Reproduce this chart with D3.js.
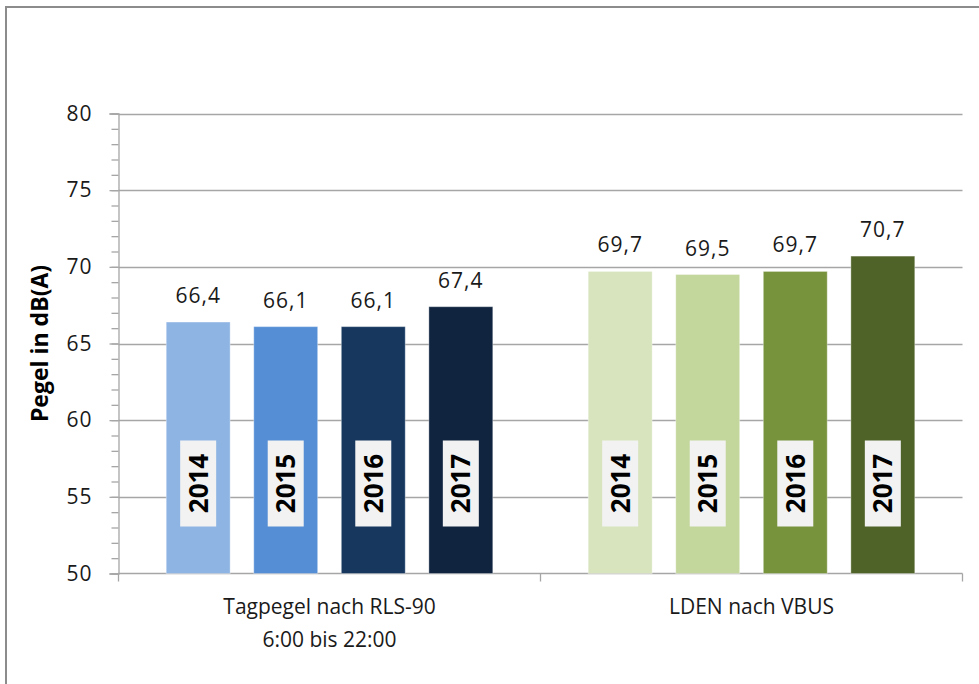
<!DOCTYPE html>
<html>
<head>
<meta charset="utf-8">
<script src="https://cdn.jsdelivr.net/npm/d3@7"></script>
<style>
  html, body { margin: 0; padding: 0; background: #fff; }
  svg { display: block; font-family: "Open Sans", sans-serif; }
</style>
</head>
<body>
<div id="chart"></div>
<script>
// data
const categories = ['Tagpegel nach RLS-90\n6:00 bis 22:00', 'LDEN nach VBUS'];
const years = ['2014', '2015', '2016', '2017'];
const tagValues = [66.4, 66.1, 66.1, 67.4];
const ldenValues = [69.7, 69.5, 69.7, 70.7];
const tagColors = ['#8EB4E3', '#558ED5', '#17375E', '#10243F'];
const ldenColors = ['#D7E4BD', '#C3D69B', '#77933C', '#4F6228'];
const yTicks = [50, 55, 60, 65, 70, 75, 80];
const yMinorTicks = d3.range(50, 81, 1);

const width = 979;
const height = 684;
const plot = { left: 118.5, right: 962.5, top: 113.5, bottom: 573.5 };

const groups = [
  { cat: categories[0], values: tagValues, colors: tagColors },
  { cat: categories[1], values: ldenValues, colors: ldenColors }
];

const svg = d3.select('#chart').append('svg')
  .attr('width', width)
  .attr('height', height);

// chart border
svg.append('rect')
  .attr('x', 6).attr('y', 7)
  .attr('width', 1000).attr('height', 700)
  .attr('fill', 'none')
  .attr('stroke', '#8c8c8c')
  .attr('stroke-width', 2);

const y = d3.scaleLinear()
  .domain([50, 80])
  .range([plot.bottom, plot.top]);

const x0 = d3.scaleBand()
  .domain(categories)
  .range([plot.left, plot.right]);

const x1 = d3.scaleBand()
  .domain(years)
  .range([0, x0.bandwidth()])
  .paddingInner(0.27)
  .paddingOuter(0.545);

// gridlines
svg.append('g')
  .selectAll('line')
  .data(yTicks.filter(d => d > 50))
  .join('line')
  .attr('x1', plot.left).attr('x2', plot.right)
  .attr('y1', d => Math.round(y(d)) + 0.5).attr('y2', d => Math.round(y(d)) + 0.5)
  .attr('stroke', '#a6a6a6')
  .attr('stroke-width', 1.3);

// y axis: minor ticks, then major ticks with labels
svg.append('g')
  .attr('transform', `translate(${plot.left},0)`)
  .call(d3.axisLeft(y).tickValues(yMinorTicks).tickSize(7).tickFormat(''))
  .call(g => g.select('.domain').remove())
  .call(g => g.selectAll('line').attr('stroke', '#a6a6a6').attr('stroke-width', 1.3));

svg.append('g')
  .attr('transform', `translate(${plot.left},0)`)
  .call(d3.axisLeft(y).tickValues(yTicks).tickSize(9).tickPadding(17))
  .call(g => g.select('.domain').attr('stroke', '#a6a6a6').attr('stroke-width', 1.3))
  .call(g => g.selectAll('line').attr('stroke', '#a6a6a6').attr('stroke-width', 1.3))
  .call(g => g.selectAll('text')
    .attr('font-family', '"Open Sans", sans-serif')
    .attr('font-size', 21)
    .attr('letter-spacing', 1)
    .attr('fill', '#1a1a1a'));

// x axis
svg.append('g')
  .attr('transform', `translate(0,${plot.bottom})`)
  .call(g => g.append('line')
    .attr('x1', plot.left).attr('x2', plot.right)
    .attr('stroke', '#a6a6a6').attr('stroke-width', 1.3))
  .call(g => g.selectAll('.tick')
    .data([plot.left, ...categories.map(c => x0(c) + x0.bandwidth())])
    .join('line')
    .attr('x1', d => d).attr('x2', d => d)
    .attr('y1', 0).attr('y2', 8)
    .attr('stroke', '#a6a6a6').attr('stroke-width', 1.3));

// category labels
svg.append('g')
  .selectAll('text')
  .data(categories)
  .join('text')
  .attr('text-anchor', 'middle')
  .attr('font-size', 21)
  .attr('fill', '#1a1a1a')
  .attr('transform', d => `translate(${x0(d) + x0.bandwidth() / 2},614)`)
  .selectAll('tspan')
  .data(d => d.split('\n'))
  .join('tspan')
  .attr('x', 0)
  .attr('dy', (d, i) => i === 0 ? 0 : 33)
  .text(d => d);

// y axis title
svg.append('text')
  .attr('transform', `translate(48,${(plot.top + plot.bottom) / 2}) rotate(-90)`)
  .attr('text-anchor', 'middle')
  .attr('font-size', 23)
  .attr('font-weight', 'bold')
  .attr('fill', '#000')
  .text('Pegel in dB(A)');

const fmt = v => d3.format('.1f')(v).replace('.', ',');

// bars
const grp = svg.append('g')
  .selectAll('g')
  .data(groups)
  .join('g')
  .attr('transform', d => `translate(${x0(d.cat)},0)`);

const bar = grp.selectAll('g')
  .data(d => d.values.map((v, i) => ({ year: years[i], value: v, color: d.colors[i] })))
  .join('g')
  .attr('transform', d => `translate(${x1(d.year)},0)`);

bar.append('rect')
  .attr('x', 0)
  .attr('y', d => y(d.value))
  .attr('width', x1.bandwidth())
  .attr('height', d => y(50) - y(d.value))
  .attr('fill', d => d.color)
  .attr('stroke', '#ffffff')
  .attr('stroke-opacity', 0.35)
  .attr('stroke-width', 1);

bar.append('text')
  .attr('x', x1.bandwidth() / 2)
  .attr('y', d => y(d.value) - 19)
  .attr('text-anchor', 'middle')
  .attr('font-size', 21)
  .attr('letter-spacing', 1)
  .attr('fill', '#1a1a1a')
  .text(d => fmt(d.value));

// year labels inside bars
const yearLabel = bar.append('g')
  .attr('transform', `translate(${x1.bandwidth() / 2},483.5)`);

yearLabel.append('rect')
  .attr('x', -18).attr('y', -43)
  .attr('width', 36).attr('height', 86)
  .attr('fill', '#f2f2f2');

yearLabel.append('text')
  .attr('transform', 'rotate(-90)')
  .attr('text-anchor', 'middle')
  .attr('dy', '0.36em')
  .attr('font-size', 26)
  .attr('font-weight', 'bold')
  .attr('fill', '#000')
  .text(d => d.year);
</script>
</body>
</html>
